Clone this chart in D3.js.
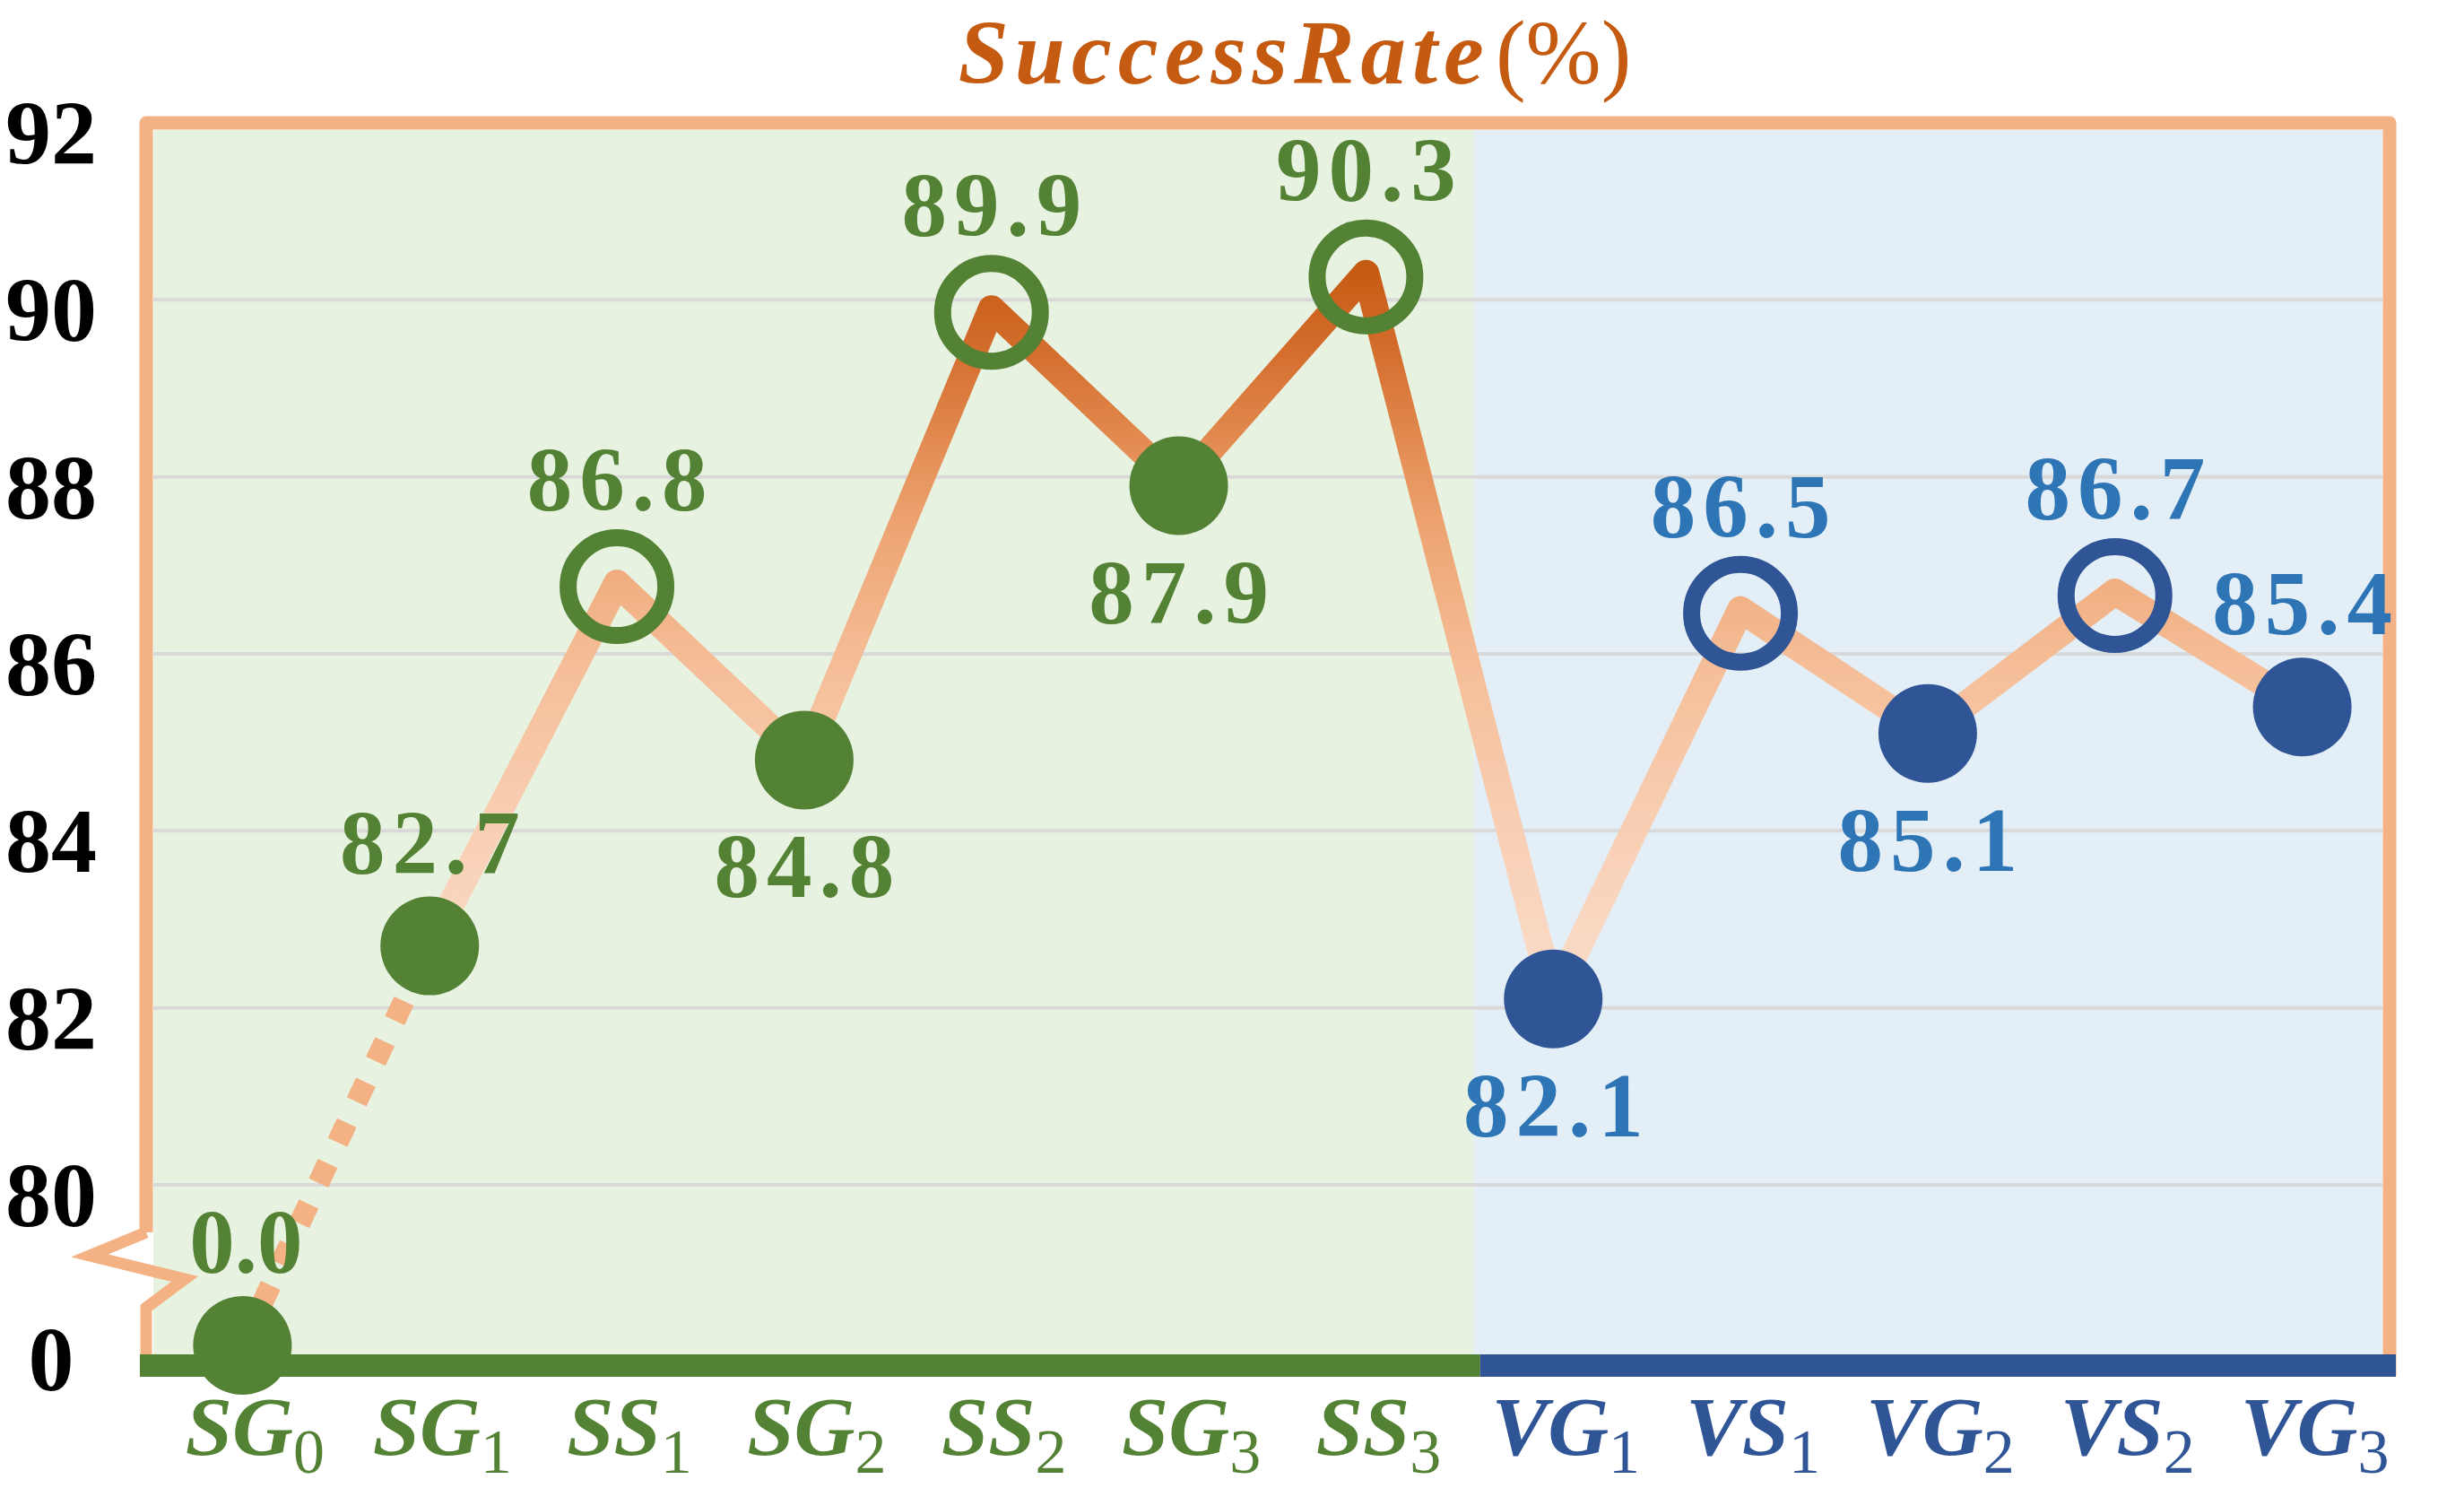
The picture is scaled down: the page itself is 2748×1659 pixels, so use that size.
<!DOCTYPE html>
<html>
<head>
<meta charset="utf-8">
<script src="https://cdn.jsdelivr.net/npm/d3@7"></script>
<style>
  html, body { margin: 0; padding: 0; background: #ffffff; }
  svg { display: block; }
</style>
</head>
<body>
<svg id="chart" width="2748" height="1659"></svg>
<script>
// ---------------- data ----------------
const catNames = ["SG", "SG", "SS", "SG", "SS", "SG", "SS", "VG", "VS", "VG", "VS", "VG"];
const catSubs  = ["0", "1", "1", "2", "2", "3", "3", "1", "1", "2", "2", "3"];
const categories = catNames.map((n, i) => n + catSubs[i]);
const values = [0.0, 82.7, 86.8, 84.8, 89.9, 87.9, 90.3, 82.1, 86.5, 85.1, 86.7, 85.4];
const markerKinds = ["filled", "filled", "ring", "filled", "ring", "filled", "ring", "filled", "ring", "filled", "ring", "filled"];
const groups = ["S", "S", "S", "S", "S", "S", "S", "V", "V", "V", "V", "V"];
const labelSides = ["above", "above", "above", "below", "above", "below", "above", "below", "above", "below", "above", "above"];
const yTickValues = [0, 80, 82, 84, 86, 88, 90, 92];
const gridValues = [80, 82, 84, 86, 88, 90];
const titleMain = "SuccessRate";
const titleUnit = "(%)";

// ---------------- styles ----------------
const C = {
  frame: "#F4B183",
  greenBg: "#E7F2E1",
  blueBg: "#E3EEF7",
  grid: "#D9D9D9",
  greenMark: "#548235",
  blueMark: "#2F5597",
  greenText: "#548235",
  blueText: "#2E75B6",
  title: "#C55A11"
};
const serif = "'Liberation Serif', 'Times New Roman', serif";

// ---------------- layout ----------------
const frameL = 163, frameR = 2665, frameT = 137, frameB = 1522;
const svg = d3.select("#chart");

const x = d3.scalePoint().domain(categories).range([166, 2672]).padding(0.5);
const y = d3.scaleLinear().domain([0, 80, 92]).range([1500, 1321, 137]);

// split between groups
const lastS = categories[groups.lastIndexOf("S")];
const firstV = categories[groups.indexOf("V")];
const splitX = (x(lastS) + x(firstV)) / 2 + 16;

// backgrounds
svg.append("rect").attr("x", frameL + 8).attr("y", frameT + 8)
  .attr("width", splitX - frameL - 8).attr("height", frameB - frameT - 20)
  .attr("fill", C.greenBg);
svg.append("rect").attr("x", splitX).attr("y", frameT + 8)
  .attr("width", frameR - 8 - splitX).attr("height", frameB - frameT - 20)
  .attr("fill", C.blueBg);

// grid lines
svg.append("g").selectAll("line").data(gridValues).join("line")
  .attr("x1", frameL + 8).attr("x2", frameR - 8)
  .attr("y1", d => y(d)).attr("y2", d => y(d))
  .attr("stroke", C.grid).attr("stroke-width", 4);

// frame (top, right, left with break)
const breakTop = 1374, breakBot = 1458;
const framePath = d3.path();
framePath.moveTo(frameL, breakTop);
framePath.lineTo(frameL, frameT);
framePath.lineTo(frameR, frameT);
framePath.lineTo(frameR, frameB + 12);
svg.append("path").attr("d", framePath.toString())
  .attr("fill", "none").attr("stroke", C.frame).attr("stroke-width", 15)
  .attr("stroke-linejoin", "round");
// zigzag break mark
const zig = d3.line()([[frameL, breakTop], [100, 1400], [206, 1426], [frameL, breakBot], [frameL, frameB + 12]]);
svg.append("path").attr("d", zig)
  .attr("fill", "none").attr("stroke", C.frame).attr("stroke-width", 13)
  .attr("stroke-linejoin", "miter");

// bottom axis bars
svg.append("rect").attr("x", frameL - 7).attr("y", 1510)
  .attr("width", splitX + 7 - (frameL - 7)).attr("height", 25).attr("fill", C.greenMark);
svg.append("rect").attr("x", splitX + 7).attr("y", 1510)
  .attr("width", frameR + 7 - (splitX + 7)).attr("height", 25).attr("fill", C.blueMark);

// gradient for line
const defs = svg.append("defs");
const grad = defs.append("linearGradient").attr("id", "lineGrad")
  .attr("gradientUnits", "userSpaceOnUse")
  .attr("x1", 0).attr("x2", 0).attr("y1", y(90.4)).attr("y2", y(82));
[[0, "#C55A11"], [0.12, "#D46E2E"], [0.25, "#E48E55"], [0.36, "#EEA573"], [0.54, "#F5BE98"], [0.76, "#F8CFB4"], [1, "#FBDECC"]]
  .forEach(([o, c]) => grad.append("stop").attr("offset", o).attr("stop-color", c));

const pts = categories.map((c, i) => [x(c), y(values[i])]);
const line = d3.line();

// dashed segment from first point
svg.append("path").attr("d", line(pts.slice(0, 2)))
  .attr("fill", "none").attr("stroke", C.frame).attr("stroke-width", 24)
  .attr("stroke-dasharray", "24 26");
// solid segment
svg.append("path").attr("d", line(pts.slice(1)))
  .attr("fill", "none").attr("stroke", "url(#lineGrad)").attr("stroke-width", 30)
  .attr("stroke-linejoin", "round").attr("stroke-linecap", "butt");

// markers
const mk = svg.append("g");
categories.forEach((c, i) => {
  const col = groups[i] === "S" ? C.greenMark : C.blueMark;
  if (markerKinds[i] === "filled") {
    mk.append("circle").attr("cx", x(c)).attr("cy", y(values[i])).attr("r", 55).attr("fill", col);
  } else {
    mk.append("circle").attr("cx", x(c)).attr("cy", y(values[i]) + 4).attr("r", 54.5)
      .attr("fill", "none").attr("stroke", col).attr("stroke-width", 19);
  }
});

// data labels
svg.append("g").selectAll("text").data(categories).join("text")
  .attr("x", (c) => x(c) + 4)
  .attr("y", (c, i) => labelSides[i] === "above" ? y(values[i]) - 81 : y(values[i]) + 153)
  .attr("text-anchor", "middle")
  .attr("font-family", serif).attr("font-weight", "bold").attr("font-size", 101)
  .attr("letter-spacing", (c, i) => values[i] === 0 ? 0 : 8)
  .attr("fill", (c, i) => groups[i] === "S" ? C.greenText : C.blueText)
  .text((c, i) => values[i].toFixed(1));

// y tick labels
svg.append("g").selectAll("text").data(yTickValues).join("text")
  .attr("x", 57).attr("y", d => y(d) + (d === 0 ? 50 : 46))
  .attr("text-anchor", "middle")
  .attr("font-family", serif).attr("font-weight", "bold").attr("font-size", 102)
  .attr("fill", "#000000")
  .text(d => d);

// x tick labels
const xl = svg.append("g").selectAll("text").data(categories).join("text")
  .attr("x", c => x(c) + 14).attr("y", 1622)
  .attr("text-anchor", "middle")
  .attr("font-family", serif).attr("font-weight", "bold")
  .attr("fill", (c, i) => groups[i] === "S" ? C.greenMark : C.blueMark);
xl.append("tspan").attr("font-style", "italic").attr("font-size", 94)
  .text((c, i) => catNames[i]);
xl.append("tspan").attr("font-size", 70).attr("dy", 20).attr("font-weight", "normal")
  .text((c, i) => catSubs[i]);

// title
const t = svg.append("text").attr("x", 1444).attr("y", 93)
  .attr("text-anchor", "middle").attr("font-family", serif).attr("fill", C.title);
t.append("tspan").attr("font-style", "italic").attr("font-weight", "bold")
  .attr("font-size", 101).attr("letter-spacing", 7).text(titleMain);
t.append("tspan").attr("font-size", 101).attr("dx", 6).text(titleUnit);
</script>
</body>
</html>
